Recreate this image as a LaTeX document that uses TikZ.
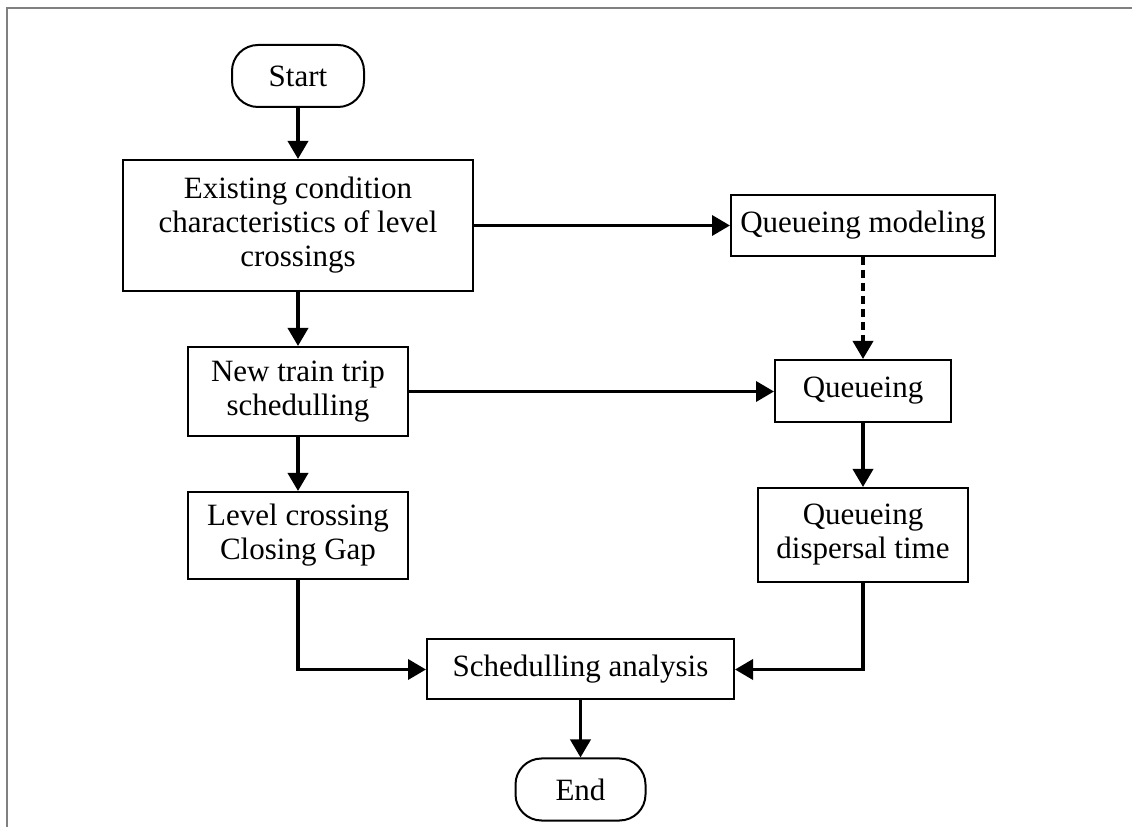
\documentclass[tikz,border=0pt]{standalone}
\usepackage{fontspec}
\setmainfont{Liberation Serif}
\definecolor{FrameGray}{HTML}{808080}
\usepackage{tikz}
\usetikzlibrary{arrows.meta,positioning,calc}

\begin{document}
\begin{tikzpicture}[
  x=1pt,y=1pt,
  every node/.style={font=\fontsize{31}{34}\selectfont,align=center,inner sep=0pt},
  box/.style={draw,line width=2pt},
  term/.style={draw,line width=2pt,rounded corners=26pt,minimum width=132pt,minimum height=62pt},
  arr/.style={-{Triangle[length=18pt,width=20pt]},line width=3.6pt}
]
\useasboundingbox (0,0) rectangle (1132,827);
% frame of the figure
\draw[FrameGray,line width=2.4pt] (7,0) -- (7,819) -- (1132,819);

\node[term] (start) at (298,751) {Start};
\node[box,minimum width=350pt,minimum height=131pt,below=51pt of start] (exist) {Existing condition\\characteristics of level\\crossings};
\node[box,minimum width=220pt,minimum height=89pt,below=54pt of exist] (trip) {New train trip\\schedulling};
\node[box,minimum width=220pt,minimum height=87pt,below=54pt of trip] (gap) {Level crossing\\Closing Gap};
\node[box,minimum width=264pt,minimum height=61pt,right=256pt of exist] (model) {Queueing modeling};
\node[box,minimum width=176pt,minimum height=62pt,below=102pt of model] (queue) {Queueing};
\node[box,minimum width=210pt,minimum height=94pt,below=64pt of queue] (disp) {Queueing\\dispersal time};
\node[box,minimum width=307pt,minimum height=60pt,below=57pt of {$(gap.south)!0.5!(disp.south)$}] (anal) {Schedulling analysis};
\node[term,minimum width=130pt,below=57pt of anal] (end) {End};

\draw[arr] (start) -- (exist);
\draw[arr] (exist) -- (trip);
\draw[arr] (trip) -- (gap);
\draw[arr] (exist) -- (model);
\draw[arr,dash pattern=on 8pt off 5pt] (model) -- (queue);
\draw[arr] (trip.east) -- (trip.east -| queue.west);
\draw[arr] (queue) -- (disp);
\draw[arr] (gap) |- (anal);
\draw[arr] (disp) |- (anal);
\draw[arr] (anal) -- (end);
\end{tikzpicture}
\end{document}
